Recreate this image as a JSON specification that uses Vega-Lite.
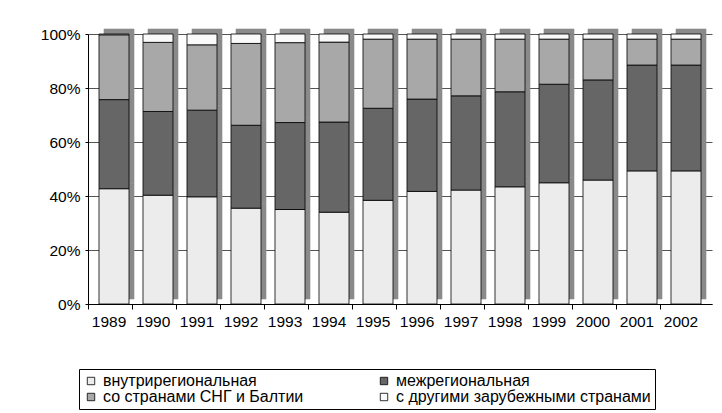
{
  "$schema": "https://vega.github.io/schema/vega-lite/v6.json",
  "width": 624,
  "height": 270,
  "autosize": {"type": "none"},
  "padding": {"left": 88, "top": 34, "right": 10, "bottom": 109},
  "background": "white",
  "config": {
    "view": {"stroke": null},
    "font": "Liberation Sans",
    "axis": {"labelFont": "Liberation Sans", "labelFontSize": 15.5, "labelColor": "black", "domainColor": "black", "tickColor": "black"}
  },
  "data": {
    "values": [
      {"year": "1989", "cat": "внутрирегиональная", "v": 42.7},
      {"year": "1989", "cat": "межрегиональная", "v": 33.0},
      {"year": "1989", "cat": "со странами СНГ и Балтии", "v": 24.0},
      {"year": "1989", "cat": "с другими зарубежными странами", "v": 0.3},
      {"year": "1990", "cat": "внутрирегиональная", "v": 40.3},
      {"year": "1990", "cat": "межрегиональная", "v": 31.0},
      {"year": "1990", "cat": "со странами СНГ и Балтии", "v": 25.6},
      {"year": "1990", "cat": "с другими зарубежными странами", "v": 3.1},
      {"year": "1991", "cat": "внутрирегиональная", "v": 39.7},
      {"year": "1991", "cat": "межрегиональная", "v": 32.1},
      {"year": "1991", "cat": "со странами СНГ и Балтии", "v": 24.2},
      {"year": "1991", "cat": "с другими зарубежными странами", "v": 4.0},
      {"year": "1992", "cat": "внутрирегиональная", "v": 35.5},
      {"year": "1992", "cat": "межрегиональная", "v": 30.7},
      {"year": "1992", "cat": "со странами СНГ и Балтии", "v": 30.3},
      {"year": "1992", "cat": "с другими зарубежными странами", "v": 3.5},
      {"year": "1993", "cat": "внутрирегиональная", "v": 35.0},
      {"year": "1993", "cat": "межрегиональная", "v": 32.2},
      {"year": "1993", "cat": "со странами СНГ и Балтии", "v": 29.6},
      {"year": "1993", "cat": "с другими зарубежными странами", "v": 3.2},
      {"year": "1994", "cat": "внутрирегиональная", "v": 34.0},
      {"year": "1994", "cat": "межрегиональная", "v": 33.4},
      {"year": "1994", "cat": "со странами СНГ и Балтии", "v": 29.6},
      {"year": "1994", "cat": "с другими зарубежными странами", "v": 3.0},
      {"year": "1995", "cat": "внутрирегиональная", "v": 38.4},
      {"year": "1995", "cat": "межрегиональная", "v": 34.1},
      {"year": "1995", "cat": "со странами СНГ и Балтии", "v": 25.6},
      {"year": "1995", "cat": "с другими зарубежными странами", "v": 1.9},
      {"year": "1996", "cat": "внутрирегиональная", "v": 41.7},
      {"year": "1996", "cat": "межрегиональная", "v": 34.2},
      {"year": "1996", "cat": "со странами СНГ и Балтии", "v": 22.2},
      {"year": "1996", "cat": "с другими зарубежными странами", "v": 1.9},
      {"year": "1997", "cat": "внутрирегиональная", "v": 42.2},
      {"year": "1997", "cat": "межрегиональная", "v": 34.9},
      {"year": "1997", "cat": "со странами СНГ и Балтии", "v": 21.0},
      {"year": "1997", "cat": "с другими зарубежными странами", "v": 1.9},
      {"year": "1998", "cat": "внутрирегиональная", "v": 43.4},
      {"year": "1998", "cat": "межрегиональная", "v": 35.2},
      {"year": "1998", "cat": "со странами СНГ и Балтии", "v": 19.5},
      {"year": "1998", "cat": "с другими зарубежными странами", "v": 1.9},
      {"year": "1999", "cat": "внутрирегиональная", "v": 44.9},
      {"year": "1999", "cat": "межрегиональная", "v": 36.5},
      {"year": "1999", "cat": "со странами СНГ и Балтии", "v": 16.7},
      {"year": "1999", "cat": "с другими зарубежными странами", "v": 1.9},
      {"year": "2000", "cat": "внутрирегиональная", "v": 45.9},
      {"year": "2000", "cat": "межрегиональная", "v": 37.1},
      {"year": "2000", "cat": "со странами СНГ и Балтии", "v": 15.1},
      {"year": "2000", "cat": "с другими зарубежными странами", "v": 1.9},
      {"year": "2001", "cat": "внутрирегиональная", "v": 49.3},
      {"year": "2001", "cat": "межрегиональная", "v": 39.2},
      {"year": "2001", "cat": "со странами СНГ и Балтии", "v": 9.6},
      {"year": "2001", "cat": "с другими зарубежными странами", "v": 1.9},
      {"year": "2002", "cat": "внутрирегиональная", "v": 49.3},
      {"year": "2002", "cat": "межрегиональная", "v": 39.2},
      {"year": "2002", "cat": "со странами СНГ и Балтии", "v": 9.6},
      {"year": "2002", "cat": "с другими зарубежными странами", "v": 1.9}
    ]
  },
  "transform": [
    {"calculate": "indexof(['внутрирегиональная', 'межрегиональная', 'со странами СНГ и Балтии', 'с другими зарубежными странами'], datum.cat)", "as": "k"}
  ],
  "encoding": {
    "x": {
      "field": "year", "type": "ordinal", "title": null,
      "scale": {"paddingInner": 0.318, "paddingOuter": 0.25},
      "axis": {"labelAngle": 0, "bandPosition": 0, "tickOffset": -11, "labelOffset": 5.5, "tickSize": 5, "labelPadding": 5, "domainColor": "black"}
    },
    "y": {
      "field": "v", "type": "quantitative", "stack": "normalize", "title": null,
      "scale": {"domain": [0, 1]},
      "axis": {"format": "%", "values": [0, 0.2, 0.4, 0.6, 0.8, 1], "tickSize": 3, "labelPadding": 5, "grid": true, "gridColor": "#555555", "gridWidth": 1}
    },
    "order": {"field": "k", "type": "quantitative", "sort": "ascending"}
  },
  "layer": [
    {
      "mark": {"type": "bar", "fill": "#8a8a8a", "stroke": "#8a8a8a", "strokeWidth": 0.6, "xOffset": 5, "yOffset": -5},
      "encoding": {
        "detail": {"field": "cat", "type": "nominal"}
      }
    },
    {
      "mark": {"type": "bar", "stroke": "black", "strokeWidth": 0.8},
      "encoding": {
        "fill": {
          "field": "cat", "type": "nominal",
          "scale": {
            "domain": ["внутрирегиональная", "со странами СНГ и Балтии", "межрегиональная", "с другими зарубежными странами"],
            "range": ["#ececec", "#a8a8a8", "#666666", "#fafafa"]
          },
          "legend": {
            "orient": "none", "legendX": -9, "legendY": 335,
            "title": null, "columns": 2, "columnPadding": 72, "rowPadding": 0,
            "symbolType": "square", "symbolSize": 55, "symbolStrokeColor": "black", "symbolStrokeWidth": 0.8,
            "labelFont": "Liberation Sans", "labelFontSize": 16, "labelColor": "black", "labelLimit": 400, "labelOffset": 4,
            "strokeColor": "black", "padding": 4, "fillColor": "white"
          }
        }
      }
    }
  ]
}
